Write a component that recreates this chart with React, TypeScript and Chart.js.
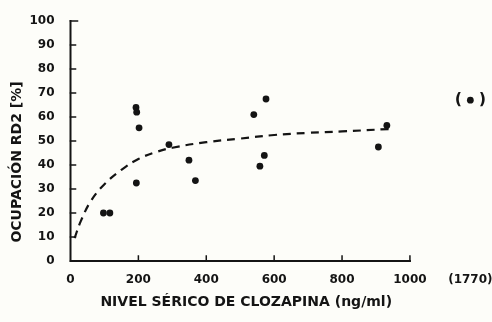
import { useEffect, useRef } from "react";
import { Chart, registerables } from "chart.js";

Chart.register(...registerables);

// Serum clozapine level (ng/ml) vs. D2 receptor occupancy (%)
const levels = [97, 116, 193, 195, 202, 194, 290, 349, 368, 540, 576, 571, 558, 932, 907];
const occupancy = [20, 20, 64, 62, 55.5, 32.5, 48.5, 42, 33.5, 61, 67.5, 44, 39.5, 56.5, 47.5];

// One patient far off the scale, shown past the axis break
const outlierLevel = 1770;
const outlierOccupancy = 67;
const outlierAxisPos = 1178; // position of the broken-axis slot on the x scale

// Fitted saturation curve (dashed)
const fitLevels = [12, 30, 60, 100, 150, 200, 250, 300, 400, 500, 600, 700, 800, 940];
const fitOccupancy = [9.5, 16.5, 25, 32, 38, 42.5, 45.3, 47.2, 49.5, 51, 52.5, 53.4, 54, 55];

const xTicks = [0, 200, 400, 600, 800, 1000];
const yTicks = [0, 10, 20, 30, 40, 50, 60, 70, 80, 90, 100];

const xTitle = "NIVEL SÉRICO DE CLOZAPINA (ng/ml)";
const yTitle = "OCUPACIÓN RD2 [%]";

const X_MAX = 1230;
const INK = "#141414";
const PAPER = "#fdfdf9";
const FONT = "'DejaVu Sans', sans-serif";

export default function App() {
  const ref = useRef<HTMLCanvasElement | null>(null);

  useEffect(() => {
    document.body.style.margin = "0";
    document.body.style.background = PAPER;
    const canvas = ref.current;
    if (!canvas) return;

    const axesPlugin = {
      id: "paperAxes",
      beforeDraw(chart: any) {
        const ctx = chart.ctx;
        ctx.save();
        ctx.fillStyle = PAPER;
        ctx.fillRect(0, 0, chart.width, chart.height);
        ctx.restore();
      },
      beforeDatasetsDraw(chart: any) {
        const ctx = chart.ctx;
        const xs = chart.scales.x;
        const ys = chart.scales.y;
        const x0 = xs.getPixelForValue(0);
        const xEnd = xs.getPixelForValue(xTicks[xTicks.length - 1]);
        const y0 = ys.getPixelForValue(0);
        const yTop = ys.getPixelForValue(yTicks[yTicks.length - 1]);
        ctx.save();
        ctx.strokeStyle = INK;
        ctx.lineCap = "square";
        ctx.lineWidth = 2;
        ctx.beginPath();
        ctx.moveTo(x0, yTop);
        ctx.lineTo(x0, y0);
        ctx.lineTo(xEnd, y0);
        ctx.stroke();
        ctx.lineWidth = 1.5;
        ctx.beginPath();
        for (const v of yTicks) {
          const py = ys.getPixelForValue(v);
          ctx.moveTo(x0, py);
          ctx.lineTo(x0 + (v === 100 ? 7 : 5), py);
        }
        for (const v of xTicks) {
          if (v === 0) continue;
          const px = xs.getPixelForValue(v);
          ctx.moveTo(px, y0);
          ctx.lineTo(px, y0 - 5);
        }
        ctx.stroke();
        ctx.restore();
      },
      afterDraw(chart: any) {
        const ctx = chart.ctx;
        const xs = chart.scales.x;
        const ys = chart.scales.y;
        ctx.save();
        ctx.fillStyle = INK;
        // parentheses around the off-scale point
        const pt = chart.getDatasetMeta(1).data[0];
        ctx.font = `bold 16px ${FONT}`;
        ctx.textAlign = "center";
        ctx.textBaseline = "middle";
        ctx.fillText("(", pt.x - 12, pt.y);
        ctx.fillText(")", pt.x + 12, pt.y);
        // axis titles
        const xMid = (xs.getPixelForValue(0) + xs.getPixelForValue(1000)) / 2 + 6;
        ctx.font = `bold 14px ${FONT}`;
        ctx.fillText(xTitle, xMid, 302);
        const yMid = (ys.getPixelForValue(0) + ys.getPixelForValue(100)) / 2 + 21;
        ctx.translate(17, yMid);
        ctx.rotate(-Math.PI / 2);
        ctx.font = `bold 14px ${FONT}`;
        ctx.fillText(yTitle, 0, 0);
        ctx.restore();
      },
    };

    const chart = new Chart(canvas, {
      type: "scatter",
      data: {
        datasets: [
          {
            data: levels.map((x, i) => ({ x, y: occupancy[i] })),
            backgroundColor: INK,
            borderColor: INK,
            pointRadius: 3.4,
            pointBorderWidth: 0,
          },
          {
            data: [{ x: outlierAxisPos, y: outlierOccupancy }],
            backgroundColor: INK,
            borderColor: INK,
            pointRadius: 3.4,
            pointBorderWidth: 0,
          },
          {
            type: "line",
            data: fitLevels.map((x, i) => ({ x, y: fitOccupancy[i] })),
            borderColor: INK,
            borderWidth: 2.2,
            borderDash: [8, 6],
            pointRadius: 0,
            tension: 0.4,
            fill: false,
          } as any,
        ],
      },
      options: {
        responsive: false,
        animation: false,
        layout: { padding: { top: 21, right: 2, left: 0, bottom: 0 } },
        plugins: { legend: { display: false }, tooltip: { enabled: false } },
        scales: {
          x: {
            type: "linear",
            min: 0,
            max: X_MAX,
            grid: { display: false },
            border: { display: false },
            afterFit: (s: any) => {
              s.height = 61;
            },
            afterBuildTicks: (s: any) => {
              // blank tick at the far end keeps the plot area from shrinking for label overhang
              s.ticks = [...xTicks, outlierAxisPos, X_MAX].map((value) => ({ value }));
            },
            ticks: {
              padding: 4,
              color: INK,
              font: { family: FONT, weight: "bold", size: 12 },
              maxRotation: 0,
              autoSkip: false,
              callback: (v: any) =>
                v === X_MAX ? "" : v === outlierAxisPos ? `(${outlierLevel})` : String(v),
            },
          },
          y: {
            type: "linear",
            min: 0,
            max: 100,
            grid: { display: false },
            border: { display: false },
            afterFit: (s: any) => {
              s.width = 70.5;
            },
            afterBuildTicks: (s: any) => {
              s.ticks = yTicks.map((value) => ({ value }));
            },
            ticks: {
              padding: 8,
              color: INK,
              font: { family: FONT, weight: "bold", size: 12 },
            },
          },
        },
      },
      plugins: [axesPlugin],
    });

    return () => chart.destroy();
  }, []);

  return <canvas ref={ref} width={492} height={322} style={{ display: "block" }} />;
}
